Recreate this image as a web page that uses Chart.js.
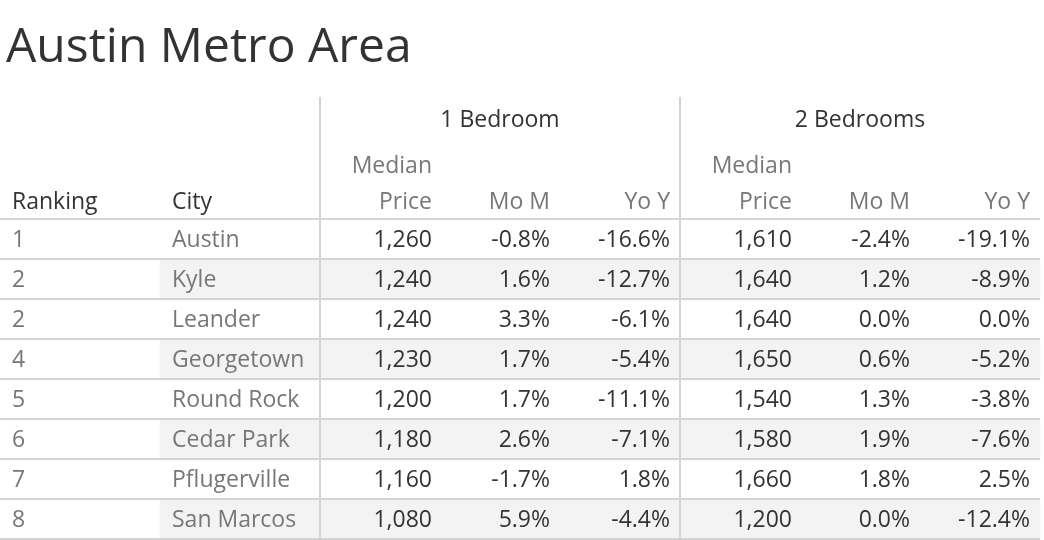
<!DOCTYPE html>
<html><head><meta charset="utf-8">
<script src="https://cdn.jsdelivr.net/npm/chart.js@4"></script>
<style>body{margin:0;background:#fff}canvas{display:block}</style>
</head><body>
<canvas id="c" width="1044" height="540"></canvas>
<script>
const ranks = ["1","2","2","4","5","6","7","8"];
const cities = ["Austin","Kyle","Leander","Georgetown","Round Rock","Cedar Park","Pflugerville","San Marcos"];
const price1 = [1260,1240,1240,1230,1200,1180,1160,1080];
const mom1 = [-0.8,1.6,3.3,1.7,1.7,2.6,-1.7,5.9];
const yoy1 = [-16.6,-12.7,-6.1,-5.4,-11.1,-7.1,1.8,-4.4];
const price2 = [1610,1640,1640,1650,1540,1580,1660,1200];
const mom2 = [-2.4,1.2,0.0,0.6,1.3,1.9,1.8,0.0];
const yoy2 = [-19.1,-8.9,0.0,-5.2,-3.8,-7.6,2.5,-12.4];
const groups = ["1 Bedroom","2 Bedrooms"];

const rowY = i => 240 + 40*i;
const shaded = ranks.map((r,i)=> i%2===1 ? {x:[160,1040], y:rowY(i)} : null).filter(Boolean);
const fmtP = v => v.toLocaleString('en-US');
const fmtPct = v => v.toFixed(1)+'%';
const F = '"Open Sans", sans-serif';

const tablePlugin = {
  id:'table',
  afterDatasetsDraw(chart){
    const c = chart.ctx, xs = chart.scales.x, ys = chart.scales.y;
    const X = v => xs.getPixelForValue(v), Y = v => ys.getPixelForValue(v);
    c.save();
    c.strokeStyle = '#d4d4d4'; c.lineWidth = 2;
    for (let i=0;i<=ranks.length;i++){ const y=Y(219+40*i); c.beginPath(); c.moveTo(X(0),y); c.lineTo(X(1040),y); c.stroke(); }
    [320,680].forEach(x=>{ c.beginPath(); c.moveTo(X(x),Y(97)); c.lineTo(X(x),Y(540)); c.stroke(); });
    c.textBaseline='middle';
    c.fillStyle='#333'; c.font='48px '+F; c.textAlign='left';
    c.fillText('Austin Metro Area', X(6), Y(48));
    c.font='23px '+F;
    c.textAlign='center';
    c.fillText(groups[0], X(500), Y(120)); c.fillText(groups[1], X(860), Y(120));
    c.textAlign='left';
    c.fillText('Ranking', X(12), Y(202)); c.fillText('City', X(172), Y(202));
    c.fillStyle='#777'; c.textAlign='right';
    [[432,792],[550,910],[670,1030]].forEach((p,k)=>{
      p.forEach(x=>{
        if(k===0){ c.fillText('Median', X(x), Y(166)); c.fillText('Price', X(x), Y(202)); }
        else c.fillText(k===1?'Mo M':'Yo Y', X(x), Y(202));
      });
    });
    ranks.forEach((r,i)=>{
      const y=Y(rowY(i));
      c.fillStyle='#777'; c.textAlign='left';
      c.fillText(r, X(12), y); c.fillText(cities[i], X(172), y);
      c.fillStyle='#333'; c.textAlign='right';
      c.fillText(fmtP(price1[i]), X(432), y);
      c.fillText(fmtPct(mom1[i]), X(550), y);
      c.fillText(fmtPct(yoy1[i]), X(670), y);
      c.fillText(fmtP(price2[i]), X(792), y);
      c.fillText(fmtPct(mom2[i]), X(910), y);
      c.fillText(fmtPct(yoy2[i]), X(1030), y);
    });
    c.restore();
  }
};

new Chart(document.getElementById('c'), {
  type:'bar',
  data:{datasets:[{data:shaded, backgroundColor:'#f3f3f3', barThickness:40, borderWidth:0}]},
  options:{
    indexAxis:'y', responsive:false, animation:false,
    layout:{padding:0},
    plugins:{legend:{display:false}, tooltip:{enabled:false}},
    scales:{
      x:{type:'linear', min:0, max:1044, display:false, offset:false},
      y:{type:'linear', min:0, max:540, reverse:true, display:false, offset:false}
    }
  },
  plugins:[tablePlugin]
});
</script>
</body></html>
